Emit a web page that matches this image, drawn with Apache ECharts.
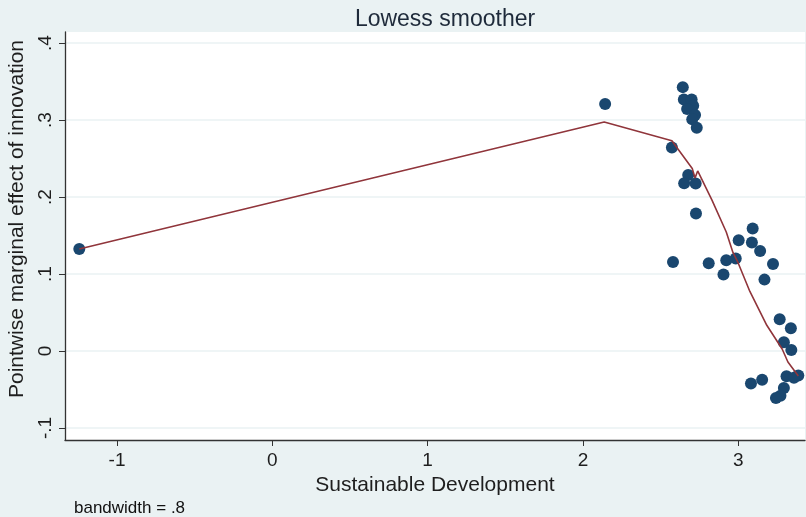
<!DOCTYPE html>
<html>
<head>
<meta charset="utf-8">
<script src="https://cdn.jsdelivr.net/npm/echarts@6/dist/echarts.min.js"></script>
<style>
html,body{margin:0;padding:0;background:#eaf2f3;}
#chart{width:806px;height:517px;}
</style>
</head>
<body>
<div id="chart"></div>
<script>
// Data
const sustDev = [-1.243, 2.143, 2.643, 2.650, 2.700, 2.710, 2.671, 2.722, 2.704, 2.733,
  2.573, 2.678, 2.652, 2.726, 2.728, 2.580, 2.810, 2.905, 2.923, 2.984, 3.003, 3.093,
  3.088, 3.141, 3.224, 3.169, 3.267, 3.339, 3.294, 3.342, 3.082, 3.154, 3.311, 3.387,
  3.359, 3.294, 3.272, 3.243];
const marginalEffect = [0.1325, 0.3208, 0.3427, 0.3265, 0.3265, 0.3186, 0.3143, 0.3065, 0.301, 0.290,
  0.2644, 0.2286, 0.218, 0.2174, 0.1786, 0.1156, 0.114, 0.0994, 0.118, 0.120, 0.1438, 0.159,
  0.141, 0.130, 0.113, 0.0927, 0.0413, 0.0294, 0.0113, 0.0013, -0.0423, -0.0375, -0.0327, -0.0318,
  -0.0348, -0.048, -0.058, -0.061];
const lowessX = [-1.243, 2.137, 2.573, 2.620, 2.704, 2.722, 2.739, 2.831, 2.923, 2.966, 2.999, 3.075, 3.184, 3.283, 3.320, 3.387];
const lowessY = [0.1325, 0.2974, 0.273, 0.260, 0.237, 0.2248, 0.2338, 0.196, 0.1545, 0.128, 0.1147, 0.0773, 0.0334, 0.0026, -0.0143, -0.0325];
const xTicks = [-1, 0, 1, 2, 3];
const yTicks = [-0.1, 0, 0.1, 0.2, 0.3, 0.4];

const titleText = 'Lowess smoother';
const xName = 'Sustainable Development';
const yName = 'Pointwise marginal effect of innovation';
const noteText = 'bandwidth = .8';

function fmtY(v){
  if (Math.abs(v) < 1e-9) return '0';
  const s = (Math.round(v*10)/10).toString();
  return s.replace(/^(-?)0\./, '$1.');
}

const chart = echarts.init(document.getElementById('chart'), null, {renderer:'canvas'});
const font = 'Liberation Sans, Arial, sans-serif';
chart.setOption({
  backgroundColor: '#eaf2f3',
  animation: false,
  title: [{
    text: titleText, left: 440, top: 3, textAlign: 'center',
    textStyle: {fontFamily: font, fontSize: 23, fontWeight: 'normal', color: '#1e2a3a'}
  },{
    text: noteText, left: 69, top: 495,
    textStyle: {fontFamily: font, fontSize: 17, fontWeight: 'normal', color: '#111'}
  }],
  graphic: [{
    type: 'text', x: 17, y: 219, rotation: Math.PI / 2,
    style: {text: yName, fontFamily: font, fontSize: 21, fill: '#1e1e1e', align: 'center', verticalAlign: 'middle'}
  }],
  grid: {left: 65, right: 1, top: 32, bottom: 77, show: true, backgroundColor: '#ffffff', borderWidth: 0,
    containLabel: false, outerBoundsMode: 'none'},
  xAxis: {
    type: 'value', min: -1.335, max: 3.43,
    name: xName, nameLocation: 'middle', nameGap: 31,
    nameTextStyle: {fontFamily: font, fontSize: 21, color: '#1e1e1e'},
    axisLine: {show: true, onZero: false, lineStyle: {color: '#333', width: 1.3}},
    axisTick: {show: true, length: 6, customValues: xTicks, lineStyle: {color: '#333'}},
    axisLabel: {customValues: xTicks, fontFamily: font, fontSize: 19, color: '#1e1e1e', margin: 11,
      formatter: v => String(v)},
    splitLine: {show: false}
  },
  yAxis: {
    type: 'value', min: -0.1156, max: 0.4143,
    axisLine: {show: true, onZero: false, lineStyle: {color: '#333', width: 1.3}},
    axisTick: {show: true, length: 6, customValues: yTicks, lineStyle: {color: '#333'}},
    axisLabel: {customValues: yTicks, rotate: 90, fontFamily: font, fontSize: 19, color: '#1e1e1e', margin: 10,
      formatter: fmtY},
    splitLine: {show: true, lineStyle: {color: '#eaf2f3', width: 1.5}}
  },
  series: [{
    type: 'scatter',
    data: sustDev.map((x,i)=>[x, marginalEffect[i]]),
    symbolSize: 12,
    itemStyle: {color: '#1a476f', opacity: 1},
    z: 3
  },{
    type: 'line',
    data: lowessX.map((x,i)=>[x, lowessY[i]]),
    showSymbol: false,
    lineStyle: {color: '#90353b', width: 1.6},
    z: 4
  }]
});
</script>
</body>
</html>
